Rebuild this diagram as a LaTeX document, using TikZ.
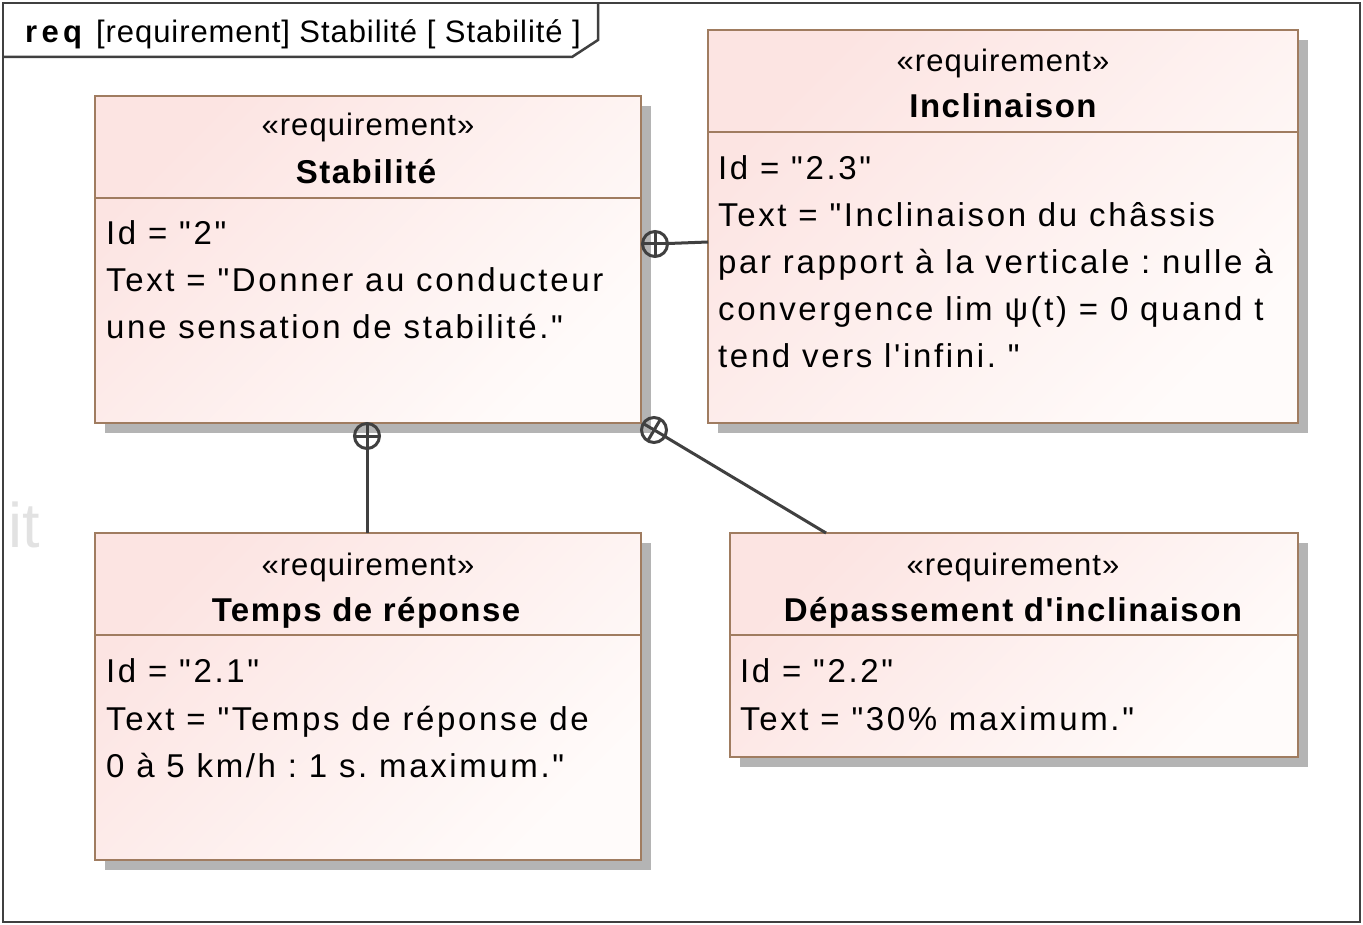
\documentclass[tikz,border=0pt]{standalone}
\usepackage{fontspec}
\setmainfont{Liberation Sans}
\newfontfamily\ftxt{Liberation Sans}[LetterSpace=8]
\newfontfamily\fster{Liberation Sans}[LetterSpace=3.5]
\newfontfamily\fttl{Liberation Sans}[LetterSpace=4.5]
\newfontfamily\fframe{Liberation Sans}[LetterSpace=3]
\newfontfamily\freq{Liberation Sans}[LetterSpace=14]
\newfontfamily\fit{Liberation Sans}
\usetikzlibrary{shadows}
\frenchspacing
\definecolor{framegray}{RGB}{64,64,64}
\definecolor{reqborder}{RGB}{160,124,96}
\definecolor{reqA}{RGB}{252,228,226}
\definecolor{reqB}{RGB}{255,251,250}
\definecolor{shadowgray}{RGB}{180,180,180}
\definecolor{ghost}{RGB}{226,226,226}
\begin{document}
\begin{tikzpicture}[x=1pt,y=-1pt,
  framel/.style={draw=framegray, line width=2.5pt},
  reqbox/.style={draw=reqborder, line width=2.5pt, left color=reqA, right color=reqB,
    shading angle=45, anchor=north west, inner sep=0pt, outer sep=0pt,
    general shadow={fill=shadowgray, shadow xshift=10pt, shadow yshift=-10pt}},
  sepline/.style={draw=reqborder, line width=2.5pt},
  txt/.style={anchor=base west, inner sep=0pt, font=\fontsize{33}{40}\ftxt},
  ster/.style={anchor=base, inner sep=0pt, font=\fontsize{31}{37}\fster},
  ttl/.style={anchor=base, inner sep=0pt, font=\fontsize{33}{40}\fttl\bfseries},
  conn/.style={draw=framegray, line width=3pt},
  contain/.style={circle, draw=framegray, line width=3pt, minimum size=25pt, inner sep=0pt, outer sep=0pt}
]
\useasboundingbox (0,0) rectangle (1363,925);
% frame
\draw[framel] (3,3) rectangle (1360,922);
\draw[framel] (3,57) -- (572,57) -- (598,40) -- (598,3);
\node[anchor=base west, inner sep=0pt, font=\fontsize{31}{37}\freq\bfseries] (freqlabel) at (25,43) {req};
\node[anchor=base west, inner sep=0pt, font=\fontsize{31}{37}\fframe] (ftitle) at (96,43) {[requirement] Stabilité [ Stabilité ]};
% ghost text
\node[anchor=base west, inner sep=0pt, text=ghost, font=\fontsize{63}{70}\fit] (ghost) at (8,547) {it};

% boxes
\node[reqbox, minimum width=546pt, minimum height=327pt] (stab) at (95,96) {};
\node[reqbox, minimum width=590pt, minimum height=393pt] (incl) at (708,30) {};
\node[reqbox, minimum width=546pt, minimum height=327pt] (temps) at (95,533) {};
\node[reqbox, minimum width=568pt, minimum height=224pt] (dep) at (730,533) {};

\draw[sepline] (stab.west |- 0,198) -- (stab.east |- 0,198);
\draw[sepline] (incl.west |- 0,132) -- (incl.east |- 0,132);
\draw[sepline] (temps.west |- 0,635) -- (temps.east |- 0,635);
\draw[sepline] (dep.west |- 0,635) -- (dep.east |- 0,635);

% Stabilite
\node[ster] (s0) at (368,136) {«requirement»};
\node[ttl] (s00) at (366,184) {Stabilité};
\node[txt] (s1) at (106,245) {Id = "2"};
\node[txt] (s2) at (106,292) {Text = "Donner au conducteur};
\node[txt] (s3) at (106,339) {une sensation de stabilité."};

% Inclinaison
\node[ster] (i0) at (1003,72) {«requirement»};
\node[ttl] (i00) at (1003,118) {Inclinaison};
\node[txt] (i1) at (718,180) {Id = "2.3"};
\node[txt] (i2) at (718,227) {Text = "Inclinaison du châssis};
\node[txt] (i3) at (718,274) {par rapport à la verticale : nulle à};
\node[txt] (i4) at (718,321) {convergence lim ψ(t) = 0 quand t};
\node[txt] (i5) at (718,367) {tend vers l'infini. "};

% Temps de reponse
\node[ster] (t0) at (368,575) {«requirement»};
\node[ttl] (t00) at (366,621) {Temps de réponse};
\node[txt] (t1) at (106,682) {Id = "2.1"};
\node[txt] (t2) at (106,730) {Text = "Temps de réponse de};
\node[txt] (t3) at (106,777) {0 à 5 km/h : 1 s. maximum."};

% Depassement
\node[ster] (d0) at (1013,575) {«requirement»};
\node[ttl] (d00) at (1013,621) {Dépassement d'inclinaison};
\node[txt] (d1) at (740,682) {Id = "2.2"};
\node[txt] (d2) at (740,730) {Text = "30\% maximum."};

% containment connectors
\node[contain] (c1) at (655,244) {};
\draw[conn] (c1.north) -- (c1.south) (c1.west) -- (c1.east);
\draw[conn] (c1) -- (incl.west |- 0,242);

\node[contain] (c2) at (367,436) {};
\draw[conn] (c2.north) -- (c2.south) (c2.west) -- (c2.east);
\draw[conn] (c2) -- (temps.north -| c2);

\node[contain] (c3) at (654,430) {};
\coordinate (d3) at (826,533);
\draw[conn] (c3.-30.7) -- (c3.149.3) (c3.59.3) -- (c3.-120.7);
\draw[conn] (c3) -- (d3);
\end{tikzpicture}
\end{document}
